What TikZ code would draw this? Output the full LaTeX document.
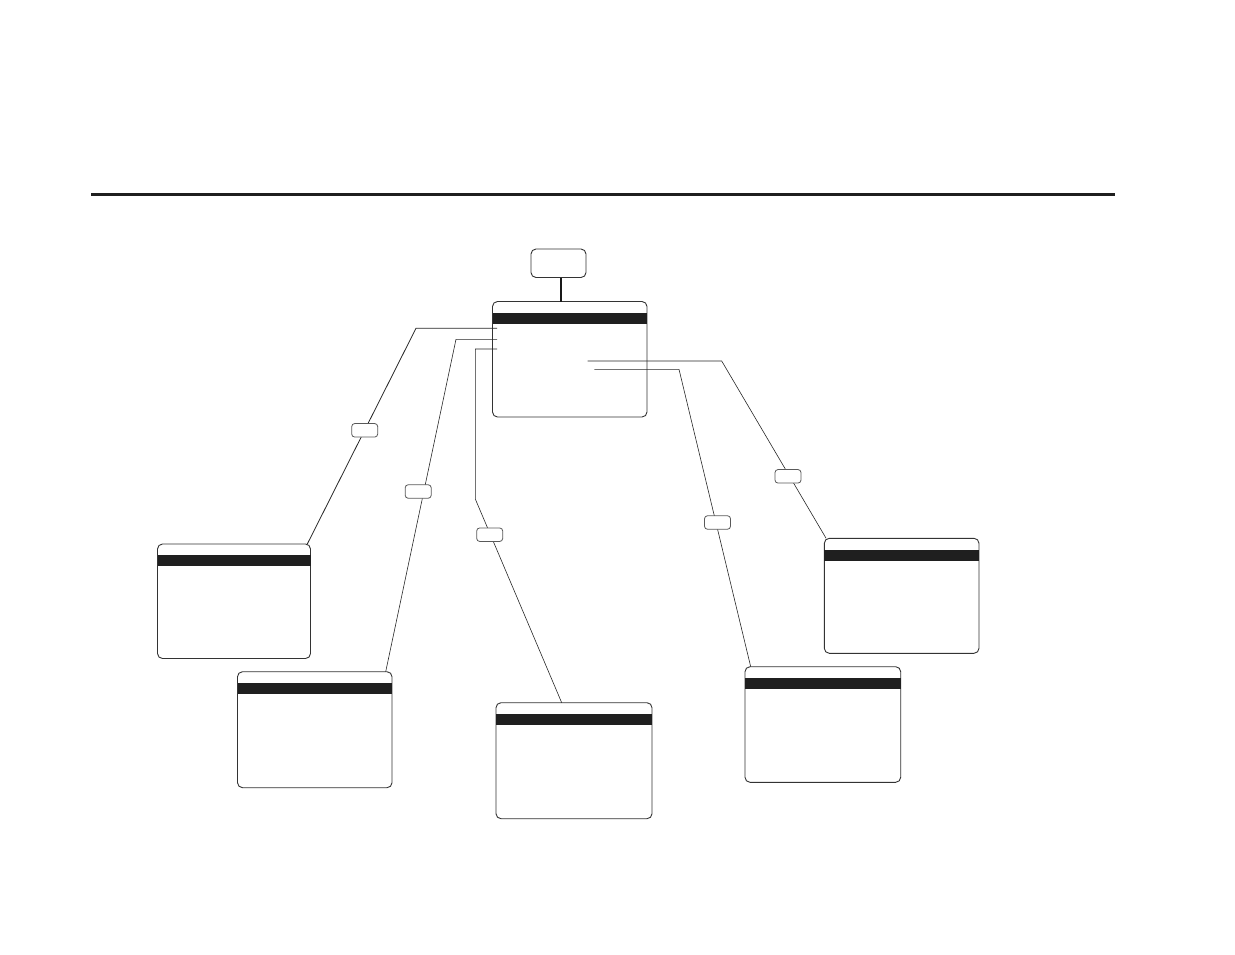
\documentclass[tikz,border=0pt]{standalone}
\begin{document}
\begin{tikzpicture}[x=1pt,y=-1pt,
  card/.style={draw=black!80,line width=0.9pt,rounded corners=5pt,fill=white,
    minimum width=154.5pt,minimum height=115.5pt,inner sep=0pt,outer sep=0pt,anchor=north west},
  topbox/.style={draw=black!80,line width=0.9pt,rounded corners=5pt,fill=white,
    minimum width=55pt,minimum height=28.5pt,inner sep=0pt,outer sep=0pt,anchor=north west},
  lbl/.style={draw=black!65,line width=0.8pt,rounded corners=3pt,fill=white,
    minimum width=26pt,minimum height=13.5pt,inner sep=0pt},
  conn/.style={draw=black!85,line width=0.6pt},
  barc/.style={fill=black!88}
]
\useasboundingbox (0,0) rectangle (1235,954);
% horizontal rule
\coordinate (r1) at (91,194.5);
\coordinate (r2) at (1115,194.5);
\draw[line width=3pt,black!88] (r1) -- (r2);

% boxes
\node[topbox] (top) at (531,249) {};
\node[card] (main) at (492.5,301.5) {};
\node[card,minimum width=153pt,minimum height=114.5pt] (l1) at (157.5,544) {};
\node[card,minimum height=116pt] (l2) at (237.5,671.7) {};
\node[card,minimum width=156pt,minimum height=116pt] (c3) at (496,702.7) {};
\node[card,minimum width=154.7pt,minimum height=115pt] (r1b) at (824.3,538.3) {};
\node[card,minimum width=155.7pt,minimum height=115.6pt] (r2b) at (745,666.7) {};

% bars
\foreach \b in {main,l1,l2,c3,r1b,r2b}{
  \fill[barc] ([yshift=-11.2pt]\b.north west) rectangle ([yshift=-22.2pt]\b.north east);
}

% connector top -> main
\draw[black!90,line width=1.2pt] ([xshift=2.5pt]top.south) -- ([xshift=2.5pt]top.south |- main.north);

% connector start points inside main box
\coordinate (s1) at (497,328.3);
\coordinate (s2) at (497,339.3);
\coordinate (s3) at (497,349);
\coordinate (sA) at (587.7,361);
\coordinate (sB) at (594.3,369.3);
% bend points
\coordinate (b1) at (416,328.3);
\coordinate (b2) at (456,339.3);
\coordinate (b3) at (475.3,349);
\coordinate (b3b) at (475.3,499);
\coordinate (bA) at (721.7,361);
\coordinate (bB) at (679,369.3);

\draw[conn,line width=0.8pt] (s1) -- (b1) -- ([xshift=-3.2pt]l1.north east);
\draw[conn] (s2) -- (b2) -- ([xshift=-6.3pt]l2.north east);
\draw[conn] (s3) -- (b3) -- (b3b) -- ([xshift=65.7pt]c3.north west);
\draw[conn] (sA) -- (bA) -- ([xshift=1.8pt]r1b.north west);
\draw[conn] (sB) -- (bB) -- ([xshift=5.7pt]r2b.north west);

% labels on connectors
\node[lbl] (k1) at (364.7,430.3) {};
\node[lbl] (k2) at (418.2,491.5) {};
\node[lbl] (k3) at (489.7,534.7) {};
\node[lbl] (kA) at (788,476.3) {};
\node[lbl] (kB) at (717.5,522.5) {};
\end{tikzpicture}
\end{document}
